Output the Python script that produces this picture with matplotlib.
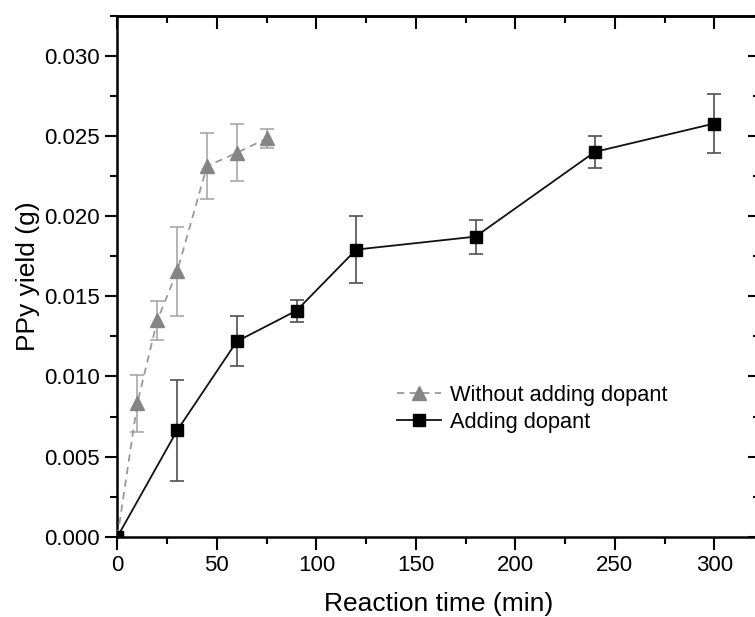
import numpy as np
import matplotlib
matplotlib.use("Agg")
import matplotlib.pyplot as plt
from matplotlib.ticker import MultipleLocator, NullFormatter

plt.rcParams["font.family"] = ["Liberation Sans", "DejaVu Sans"]

# without dopant (grey triangles)
t_nodop = [0, 10, 20, 30, 45, 60, 75]
y_nodop = [0.0, 0.00834, 0.0135, 0.01656, 0.02313, 0.02396, 0.02486]
e_nodop = [0.0, 0.00178, 0.0012, 0.0028, 0.00206, 0.00178, 0.00058]

# with dopant (black squares)
t_dop = [0, 30, 60, 90, 120, 180, 240, 300]
y_dop = [0.0, 0.00663, 0.01219, 0.01411, 0.01792, 0.01873, 0.02402, 0.02579]
e_dop = [0.0, 0.00318, 0.00156, 0.00068, 0.00211, 0.00106, 0.00099, 0.00182]

fig = plt.figure(figsize=(7.55, 6.17), dpi=100)
ax = fig.add_axes([0.1556, 0.1302, 0.851, 0.8438])

# error bars
ax.errorbar(t_nodop, y_nodop, yerr=e_nodop, fmt="none", ecolor="#a8a8a8",
            elinewidth=1.2, capsize=5, capthick=1.2, zorder=2)
ax.errorbar(t_dop, y_dop, yerr=e_dop, fmt="none", ecolor="#505050",
            elinewidth=1.2, capsize=5, capthick=1.2, zorder=2)

# lines + markers
ax.plot(t_nodop, y_nodop, ls=(0, (4, 3)), color="#9a9a9a", lw=1.3,
        marker="^", ms=10, mfc="#858585", mec="#858585",
        label="Without adding dopant", zorder=3)
ax.plot(t_dop, y_dop, ls="-", color="#111111", lw=1.3,
        marker="s", ms=8, mfc="black", mec="black",
        label="Adding dopant", zorder=4)

ax.set_xlim(0, 323)
ax.set_ylim(0, 0.0325)
ax.xaxis.set_major_locator(MultipleLocator(50))
ax.xaxis.set_minor_locator(MultipleLocator(25))
ax.yaxis.set_major_locator(MultipleLocator(0.005))
ax.yaxis.set_minor_locator(MultipleLocator(0.0025))
ax.yaxis.set_major_formatter(plt.FuncFormatter(lambda v, p: f"{v:.3f}"))

ax.tick_params(which="major", direction="out", length=9, width=1.5,
               labelsize=16, pad=4)
ax.tick_params(which="minor", direction="out", length=5, width=1.5)
for s in ax.spines.values():
    s.set_linewidth(1.8)

# top / right ticks pointing inward
top = ax.secondary_xaxis("top")
top.xaxis.set_major_locator(MultipleLocator(50))
top.xaxis.set_minor_locator(MultipleLocator(25))
top.xaxis.set_major_formatter(NullFormatter())
top.tick_params(which="major", direction="in", length=9, width=1.5)
top.tick_params(which="minor", direction="in", length=5, width=1.5)
top.spines["top"].set_linewidth(1.8)

right = ax.secondary_yaxis("right")
right.yaxis.set_major_locator(MultipleLocator(0.005))
right.yaxis.set_minor_locator(MultipleLocator(0.0025))
right.yaxis.set_major_formatter(NullFormatter())
right.tick_params(which="major", direction="in", length=9, width=1.5)
right.tick_params(which="minor", direction="in", length=5, width=1.5)
right.spines["right"].set_linewidth(1.8)

ax.set_xlabel("Reaction time (min)", fontsize=19, labelpad=12)
ax.set_ylabel("PPy yield (g)", fontsize=19, labelpad=3)

ax.legend(loc="upper left", bbox_to_anchor=(0.422, 0.309), frameon=False,
          fontsize=15.7, handlelength=2.0, handletextpad=0.4,
          labelspacing=0.3, borderaxespad=0)

fig.savefig("out.png", dpi=100)
